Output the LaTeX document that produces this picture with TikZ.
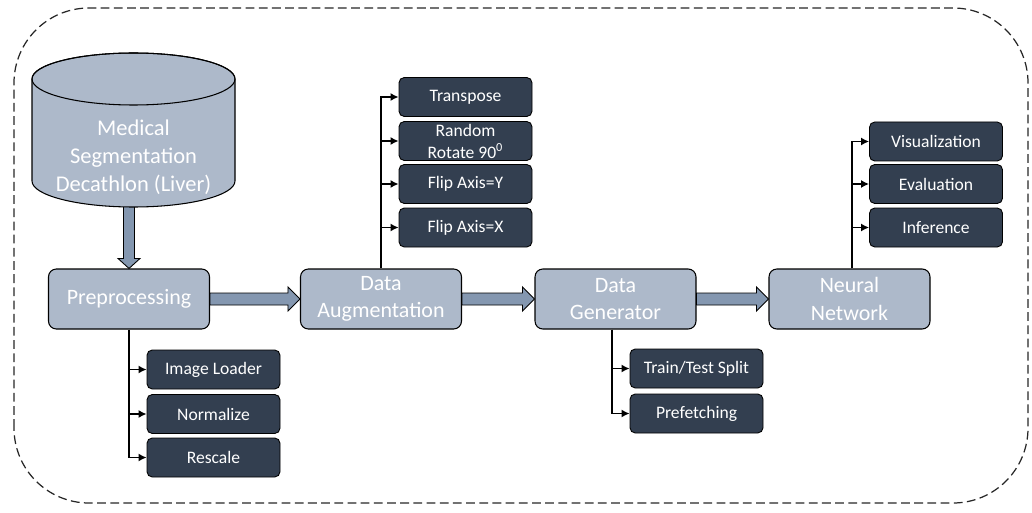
\documentclass[tikz,border=0pt]{standalone}
\usepackage{fontspec}
\setmainfont{Carlito}
\usepackage{tikz}
\usetikzlibrary{calc}
\usetikzlibrary{arrows.meta}

\definecolor{lightbox}{HTML}{ADB9CA}
\definecolor{darkbox}{HTML}{333F50}
\definecolor{arrowfill}{HTML}{8497B0}

\tikzset{
  stage/.style={draw=black, fill=lightbox, rounded corners=4.5pt, line width=0.6pt,
    minimum width=3.22cm, minimum height=1.2cm, align=center, text=white,
    font=\fontsize{12.5}{15.5}\selectfont},
  task/.style={draw=black, fill=darkbox, rounded corners=3pt, line width=0.5pt,
    minimum width=2.66cm, minimum height=0.78cm, inner sep=1pt, align=center,
    text=white, font=\fontsize{10}{12.5}\selectfont},
  flowarrow/.style={draw=black, fill=arrowfill, line width=0.5pt},
  branch/.style={draw=black, line width=0.85pt, -{Latex[length=1.6mm,width=1.6mm]}}
}

\begin{document}
\begin{tikzpicture}

    \useasboundingbox (0,0) rectangle (20.64,10.24);

    % Frame: dashed outline
    \draw[line width=0.7pt, dash pattern=on 5pt off 2.5pt, rounded corners=1.5cm, black!85]
      (0.28,0.18) rectangle (20.56,10.08);

    % Stages: main pipeline
    \node[stage] (pre) at (2.58,4.26) {Preprocessing};
    \node[stage] (aug) at (7.62,4.26) {Data\\Augmentation};
    \node[stage] (gen) at (12.31,4.26) {Data\\Generator};
    \node[stage] (net) at (16.99,4.26) {Neural\\Network};

    % Arrow: dataset to preprocessing
    \coordinate (dbbot) at (2.58,6.4);
    \filldraw[flowarrow] ($(dbbot)+(-0.11,0)$) -- ($(pre.north)+(-0.11,0.2)$)
      -- ($(pre.north)+(-0.22,0.2)$) -- (pre.north) -- ($(pre.north)+(0.22,0.2)$)
      -- ($(pre.north)+(0.11,0.2)$) -- ($(dbbot)+(0.11,0)$) -- cycle;

    % Dataset: cylinder
    \filldraw[fill=lightbox, draw=black, line width=0.6pt] (0.64,8.66) -- (0.64,6.62)
      arc[start angle=180, end angle=360, x radius=2.03, y radius=0.52]
      -- (4.70,8.66)
      arc[start angle=0, end angle=180, x radius=2.03, y radius=0.52] -- cycle;
    \draw[line width=0.6pt] (2.67,8.66) ellipse [x radius=2.03, y radius=0.52];
    \node[align=center, text=white, font=\fontsize{12.8}{15.9}\selectfont] (db) at (2.67,7.10)
      {Medical\\Segmentation\\Decathlon (Liver)};

    % Arrows: between stages
    \foreach \a/\b in {pre/aug,aug/gen,gen/net}
      \filldraw[flowarrow] ($(\a.east)+(0,0.12)$) -- ($(\b.west)+(-0.24,0.12)$)
        -- ($(\b.west)+(-0.24,0.24)$) -- (\b.west) -- ($(\b.west)+(-0.24,-0.24)$)
        -- ($(\b.west)+(-0.24,-0.12)$) -- ($(\a.east)+(0,-0.12)$) -- cycle;

    % Tasks: preprocessing
    \node[task] (imgload) at (4.27,2.85) {Image Loader};
    \node[task] (normalize) at (4.27,1.96) {Normalize};
    \node[task] (rescale) at (4.27,1.09) {Rescale};

    % Tasks: data augmentation
    \node[task] (transpose) at (9.31,8.30) {Transpose};
    \node[task] (rotate) at (9.31,7.42) {Random\\Rotate 90\textsuperscript{0}};
    \node[task] (flipy) at (9.31,6.56) {Flip Axis=Y};
    \node[task] (flipx) at (9.31,5.69) {Flip Axis=X};

    % Tasks: data generator
    \node[task] (split) at (13.93,2.87) {Train/Test Split};
    \node[task] (prefetch) at (13.93,1.97) {Prefetching};

    % Tasks: neural network
    \node[task] (visual) at (18.72,7.41) {Visualization};
    \node[task] (evaluate) at (18.72,6.56) {Evaluation};
    \node[task] (infer) at (18.72,5.69) {Inference};

    % Branches: stage to tasks
    \draw[branch] (pre.south) |- (rescale.west);
    \foreach \n in {imgload,normalize}
      \draw[branch] (pre.south |- \n.west) -- (\n.west);

    \draw[branch] (aug.north) |- (transpose.west);
    \foreach \n in {rotate,flipy,flipx}
      \draw[branch] (aug.north |- \n.west) -- (\n.west);

    \draw[branch] ($(gen.south)+(-0.07,0)$) |- (prefetch.west);
    \draw[branch] ($(gen.south)+(-0.07,0)$) |- (split.west);

    \draw[branch] ($(net.north)+(0.05,0)$) |- (visual.west);
    \foreach \n in {evaluate,infer}
      \draw[branch] ($(net.north)+(0.05,0)$) |- (\n.west);

\end{tikzpicture}
\end{document}
